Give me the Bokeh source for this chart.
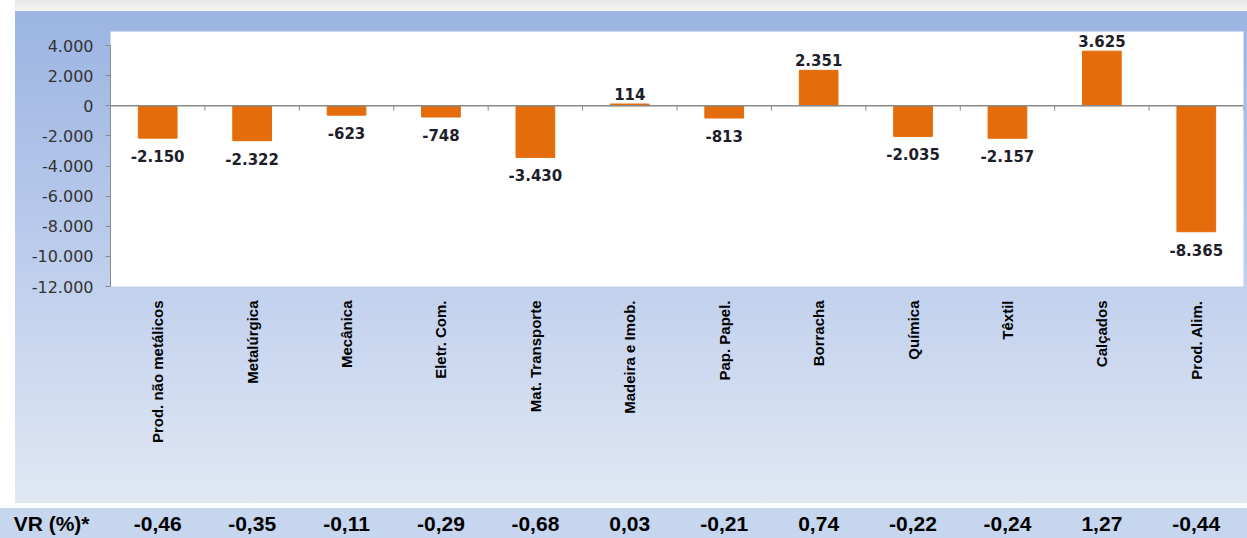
import math
from bokeh.plotting import figure
from bokeh.models import FactorRange, Range1d, Span, FixedTicker, ColumnDataSource
from bokeh.layouts import column
from bokeh.core.properties import value
from bokeh.embed import file_html
from bokeh.resources import INLINE

# ---------------- data ----------------
categories = ["Prod. não metálicos", "Metalúrgica", "Mecânica", "Eletr. Com.",
              "Mat. Transporte", "Madeira e Imob.", "Pap. Papel.", "Borracha",
              "Química", "Têxtil", "Calçados", "Prod. Alim."]
values = [-2150, -2322, -623, -748, -3430, 114, -813, 2351, -2035, -2157, 3625, -8365]
vr_values = [-0.46, -0.35, -0.11, -0.29, -0.68, 0.03, -0.21, 0.74, -0.22, -0.24, 1.27, -0.44]
row_label = "VR (%)*"
y_ticks = [4000, 2000, 0, -2000, -4000, -6000, -8000, -10000, -12000]


def br_int(v):
    return f"{v:,}".replace(",", ".")


def br_dec(v):
    return f"{v:.2f}".replace(".", ",")


ORANGE = "#E46C0A"
Y_TOP = 4930

# ---------------- main chart ----------------
p = figure(x_range=FactorRange(*categories), y_range=Range1d(-12000, Y_TOP),
           width=1247, height=503, output_backend="svg", toolbar_location=None,
           min_border_left=110, min_border_right=4, min_border_top=31,
           min_border_bottom=217, background_fill_color="white",
           border_fill_color=None, outline_line_color=None)
p.styles = {"background": "linear-gradient(to right, #ffffff 0px, #ffffff 15px, rgba(0,0,0,0) 15px), "
                          "linear-gradient(to bottom, #e6e6e6 0px, #f6f6f6 11px, #9bb4e2 11px, #b8caeb 45%, #e1e8f4 100%)"}

p.xgrid.grid_line_color = None
p.ygrid.grid_line_color = None

src = ColumnDataSource(dict(cat=categories, val=values))
p.vbar(x="cat", top="val", bottom=0, width=0.41, source=src,
       fill_color=ORANGE, line_color=ORANGE)

# zero line with category boundary ticks
p.add_layout(Span(location=0, dimension="width", line_color="#8a8a8a", line_width=1.5))
frame_h = 255
tick_len = 5 * (Y_TOP - (-12000)) / frame_h
bounds = list(range(len(categories) + 1))
p.segment(x0=bounds, y0=[0] * len(bounds), x1=bounds, y1=[-tick_len] * len(bounds),
          line_color="#8a8a8a", line_width=1)

# data labels
pos = ColumnDataSource(dict(cat=[c for c, v in zip(categories, values) if v >= 0],
                            val=[v for v in values if v >= 0],
                            lab=[br_int(v) for v in values if v >= 0]))
neg = ColumnDataSource(dict(cat=[c for c, v in zip(categories, values) if v < 0],
                            val=[v for v in values if v < 0],
                            lab=[br_int(v) for v in values if v < 0]))
common = dict(text="lab", text_align="center", text_font=value("DejaVu Sans"),
              text_font_style="bold", text_font_size="15px", text_color="#1e1e2a")
p.text(x="cat", y="val", source=pos, text_baseline="bottom", y_offset=-4, **common)
p.text(x="cat", y="val", source=neg, text_baseline="top", y_offset=12, **common)

# y axis
yax = p.yaxis[0]
yax.ticker = FixedTicker(ticks=y_ticks)
yax.major_label_overrides = {t: br_int(t) for t in y_ticks}
yax.bounds = (-12000, 4000)
yax.axis_line_color = "#8a8a8a"
yax.major_tick_line_color = "#8a8a8a"
yax.major_tick_out = 5
yax.major_tick_in = 0
yax.minor_tick_line_color = None
yax.major_label_text_font = "DejaVu Sans"
yax.major_label_text_font_size = "16px"
yax.major_label_text_color = "#333333"
yax.major_label_standoff = 12

# x axis (category labels)
xax = p.xaxis[0]
xax.major_label_orientation = math.pi / 2
xax.axis_line_color = None
xax.major_tick_line_color = None
xax.minor_tick_line_color = None
xax.major_label_standoff = 8
xax.major_label_text_font = "Liberation Sans"
xax.major_label_text_font_style = "bold"
xax.major_label_text_font_size = "15px"
xax.major_label_text_color = "#000000"

# ---------------- VR strip ----------------
STRIP = "#C6D6EF"
p2 = figure(x_range=p.x_range, y_range=FactorRange(row_label), width=1247, height=30,
            output_backend="svg", toolbar_location=None, x_axis_location=None,
            min_border_left=110, min_border_right=4, min_border_top=0, min_border_bottom=0,
            background_fill_color=STRIP, border_fill_color=STRIP, outline_line_color=None)
p2.styles = {"background-color": STRIP}
p2.xgrid.grid_line_color = None
p2.ygrid.grid_line_color = None
vsrc = ColumnDataSource(dict(cat=categories, row=[row_label] * len(categories),
                             lab=[br_dec(v) for v in vr_values]))
p2.text(x="cat", y="row", text="lab", source=vsrc, text_align="center",
        text_baseline="middle", text_font=value("Liberation Sans"), text_font_style="bold",
        text_font_size="21px", text_color="#000000")
y2 = p2.yaxis[0]
y2.axis_line_color = None
y2.major_tick_line_color = None
y2.minor_tick_line_color = None
y2.major_label_standoff = 15
y2.major_label_text_font = "Liberation Sans"
y2.major_label_text_font_style = "bold"
y2.major_label_text_font_size = "21px"
y2.major_label_text_color = "#000000"

layout = column(p, p2, spacing=5)
open("out.html", "w").write(file_html(layout, INLINE))
